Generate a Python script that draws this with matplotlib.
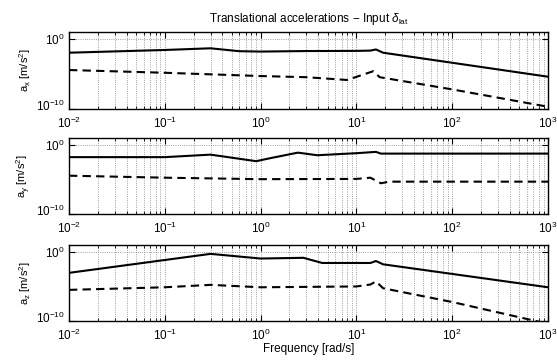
import numpy as np
import matplotlib
matplotlib.use("Agg")
import matplotlib.pyplot as plt
import matplotlib.transforms as mtransforms
from matplotlib.ticker import LogLocator, NullLocator, NullFormatter

plt.rcParams['font.family'] = ['Liberation Sans', 'DejaVu Sans']
plt.rcParams['mathtext.fontset'] = 'custom'
plt.rcParams['mathtext.rm'] = 'Liberation Sans'
plt.rcParams['mathtext.it'] = 'Liberation Sans:italic'
plt.rcParams['font.size'] = 8

# a_x : solid and dashed curves (frequency in rad/s, magnitude in m/s^2)
ax_solid_w = [0.01, 0.1, 0.3, 0.6, 1, 3, 10, 14, 16, 19, 1000]
ax_solid = [1.1e-2, 2.7e-2, 4.7e-2, 1.8e-2, 1.6e-2, 1.9e-2, 2.0e-2, 2.2e-2, 3.2e-2, 1.1e-2, 4.1e-6]
ax_dash_w = [0.01, 0.1, 1, 3, 8, 15, 17.5, 100, 1000]
ax_dash = [3.7e-5, 1.5e-5, 5.1e-6, 3.5e-6, 1.4e-6, 2.5e-5, 3.5e-6, 6.3e-8, 2.1e-10]

# a_y
ay_solid_w = [0.01, 0.1, 0.3, 0.9, 1.26, 2.45, 3.9, 10, 16, 18, 1000]
ay_solid = [1.7e-2, 1.7e-2, 3.9e-2, 4.4e-3, 1.2e-2, 7.6e-2, 3.2e-2, 6.3e-2, 9.8e-2, 5.5e-2, 5.5e-2]
ay_dash_w = [0.01, 0.1, 1, 10, 14, 18, 22, 1000]
ay_dash = [3.5e-5, 1.8e-5, 1.1e-5, 1.2e-5, 1.8e-5, 2.8e-6, 4.8e-6, 4.8e-6]

# a_z
az_solid_w = [0.01, 0.3, 1, 2.8, 4.4, 14, 16, 19, 1000]
az_solid = [9.3e-4, 5.2e-1, 1.1e-1, 1.4e-1, 2.5e-2, 2.5e-2, 4.8e-2, 1.6e-2, 7.6e-6]
az_dash_w = [0.01, 0.1, 0.3, 1, 10, 14, 16, 19, 100, 1000]
az_dash = [3.2e-6, 7.6e-6, 1.7e-5, 7.6e-6, 1.0e-5, 1.9e-5, 5.4e-5, 5.5e-6, 5.6e-8, 4.0e-11]

series = [
    (ax_solid_w, ax_solid, ax_dash_w, ax_dash, r'a$_{\rm x}$ [m/s$^2$]'),
    (ay_solid_w, ay_solid, ay_dash_w, ay_dash, r'a$_{\rm y}$ [m/s$^2$]'),
    (az_solid_w, az_solid, az_dash_w, az_dash, r'a$_{\rm z}$ [m/s$^2$]'),
]

W, H = 557, 361
fig = plt.figure(figsize=(W / 100, H / 100), dpi=100)

# axes boxes in pixels: (top, bottom)
boxes = [(32, 109), (138, 214), (245, 321)]
left, right = 69, 548

axes = []
for (top, bot), (sw, sv, dw, dv, lab) in zip(boxes, series):
    ax = fig.add_axes([left / W, 1 - bot / H, (right - left) / W, (bot - top) / H])
    ax.plot(sw, sv, color='black', lw=1.5)
    ax.plot(dw, dv, color='black', lw=1.5, dashes=(4, 2.5))
    ax.set_xscale('log')
    ax.set_yscale('log')
    ax.set_xlim(1e-2, 1e3)
    ax.set_ylim(1e-10, 1e1)
    ax.set_yticks([1e-10, 1e0])
    ax.yaxis.set_minor_locator(NullLocator())
    ax.xaxis.set_major_locator(LogLocator(base=10, numticks=10))
    ax.xaxis.set_minor_locator(LogLocator(base=10, subs=np.arange(2, 10), numticks=20))
    ax.xaxis.set_minor_formatter(NullFormatter())
    ax.grid(True, which='major', axis='both', linestyle=':', color='0.5', lw=0.6)
    ax.grid(True, which='minor', axis='x', linestyle=':', color='0.5', lw=0.6)
    ax.tick_params(which='both', direction='in', top=True, right=True, labelsize=8.5)
    ax.tick_params(axis='x', which='major', pad=5)
    ax.tick_params(axis='y', which='major', pad=3)
    ax.tick_params(which='major', length=4)
    ax.tick_params(which='minor', length=2)
    for s in ax.spines.values():
        s.set_linewidth(1.0)
    ax.set_ylabel(lab, fontsize=8, labelpad=2)
    # nudge the lowest y label up a little so it clears the first x label
    low = ax.get_yticklabels()[0]
    low.set_transform(low.get_transform() + mtransforms.ScaledTranslation(0, 3 / 72, fig.dpi_scale_trans))
    axes.append(ax)

axes[0].set_title(r'Translational accelerations $-$ Input $\delta_{\rm lat}$', fontsize=8.5, pad=7)
axes[-1].set_xlabel('Frequency [rad/s]', fontsize=8.5, labelpad=0)

fig.savefig('out.png', dpi=100)
